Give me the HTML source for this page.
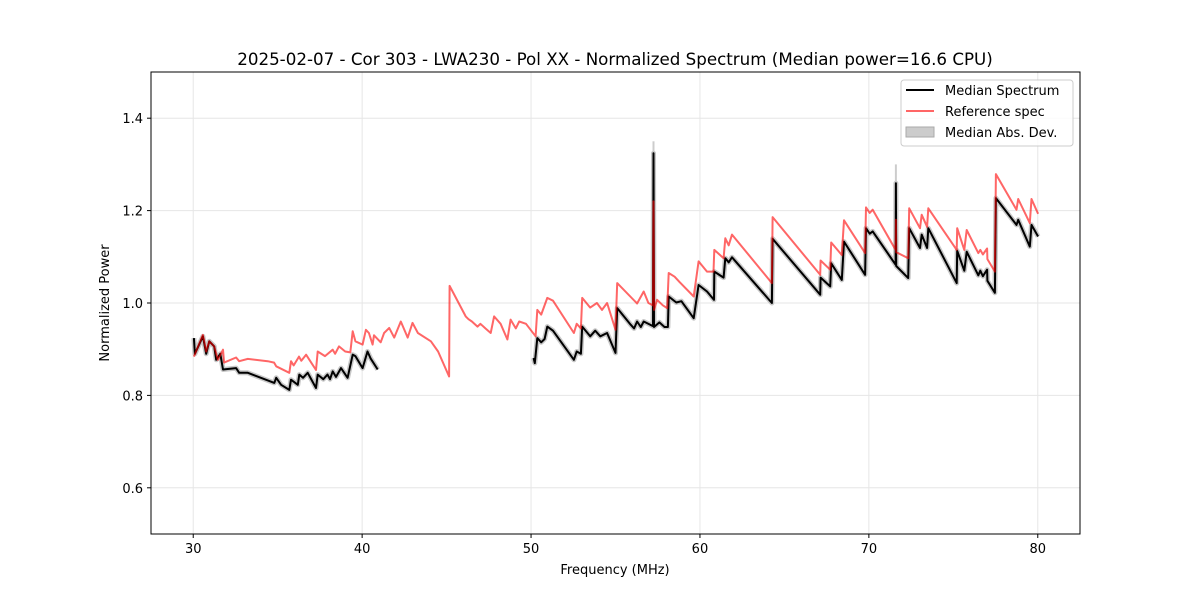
<!DOCTYPE html>
<html><head><meta charset="utf-8"><style>
body{margin:0;background:#fff;font-family:"Liberation Sans","DejaVu Sans",sans-serif}
svg text{font-family:"DejaVu Sans","Liberation Sans",sans-serif}
</style></head><body>
<svg id="chart" width="1200" height="600" xmlns="http://www.w3.org/2000/svg">
<rect width="1200" height="600" fill="#fff"/>
<text x="615" y="65" text-anchor="middle" font-size="16.7">2025-02-07 - Cor 303 - LWA230 - Pol XX - Normalized Spectrum (Median power=16.6 CPU)</text>
<g id="grid"></g><g id="series"></g><g id="axes"></g>
<text x="615" y="574" text-anchor="middle" font-size="13">Frequency (MHz)</text>
<text transform="translate(109,303) rotate(-90)" text-anchor="middle" font-size="13">Normalized Power</text>
<g>
<rect x="901" y="80" width="172" height="66" rx="3" fill="#fff" fill-opacity="0.8" stroke="#ccc"/>
<line x1="906" y1="90" x2="934" y2="90" stroke="#000" stroke-width="2"/>
<text x="945" y="95" font-size="13">Median Spectrum</text>
<line x1="906" y1="111" x2="934" y2="111" stroke="rgba(255,0,0,0.6)" stroke-width="2"/>
<text x="945" y="116" font-size="13">Reference spec</text>
<rect x="906" y="127" width="28" height="10" fill="#ccc" stroke="#aaa"/>
<text x="945" y="137" font-size="13">Median Abs. Dev.</text>
</g>
</svg>
<script>
const xTicks=[30,40,50,60,70,80];
const yTicks=[0.6,0.8,1.0,1.2,1.4];
const yTickLabels=["0.6","0.8","1.0","1.2","1.4"];
const redFreq=[30.04,30.57,30.77,30.95,31.24,31.46,31.76,31.83,32.54,32.72,33.23,34.41,34.79,34.91,35.69,35.79,35.95,36.26,36.40,36.68,37.0,37.27,37.37,37.8,38.26,38.4,38.63,39.0,39.3,39.44,39.6,40.03,40.22,40.4,40.62,40.7,41.1,41.3,41.60,41.9,42.29,42.7,42.98,43.3,44.07,44.5,45.15,45.18,46.13,46.3,46.5,46.83,47.0,47.3,47.61,47.81,48.2,48.60,48.79,49.1,49.3,49.7,50.27,50.37,50.6,50.96,51.3,52.54,52.7,52.95,53.03,53.5,53.9,54.2,54.5,55.00,55.10,56.28,56.67,56.95,57.22,57.25,57.28,57.46,57.8,58.06,58.15,58.5,58.8,59.63,59.92,60.42,60.8,60.85,61.40,61.50,61.7,61.90,64.26,64.30,67.12,67.14,67.71,67.77,68.40,68.53,69.78,69.83,70.05,70.23,71.58,71.6,71.62,72.33,72.39,73.03,73.13,73.45,73.52,75.20,75.23,75.65,75.79,76.48,76.6,76.75,77.0,77.02,77.46,77.52,78.74,78.84,79.53,79.63,80.02];
const redVal=[.884,.931,.895,.917,.906,.877,.899,.871,.882,.874,.879,.874,.871,.863,.849,.874,.865,.884,.875,.888,.87,.855,.895,.885,.899,.89,.906,.895,.893,.939,.917,.910,.942,.935,.910,.930,.915,.935,.946,.925,.960,.925,.957,.935,.917,.895,.841,1.037,.971,.965,.960,.949,.955,.945,.935,.971,.955,.921,.964,.945,.96,.955,.928,.985,.975,1.011,1.005,.935,.955,.945,1.011,.99,1.0,.985,1.0,.942,1.043,.999,1.025,1.0,.995,1.22,.985,1.007,.995,.989,1.065,1.057,1.045,1.014,1.090,1.068,1.068,1.115,1.097,1.140,1.125,1.148,1.043,1.186,1.061,1.092,1.072,1.131,1.104,1.179,1.108,1.207,1.195,1.202,1.115,1.18,1.11,1.097,1.205,1.162,1.191,1.165,1.205,1.115,1.162,1.115,1.158,1.108,1.115,1.105,1.118,1.095,1.068,1.279,1.202,1.225,1.173,1.225,1.193];
const blackFreqA=[30.04,30.1,30.57,30.77,30.95,31.24,31.36,31.6,31.76,32.54,32.72,33.23,34.80,34.91,35.20,35.69,35.79,36.19,36.28,36.5,36.78,37.27,37.37,37.7,37.95,38.1,38.26,38.45,38.75,39.14,39.44,39.6,40.03,40.32,40.5,40.92];
const blackValA=[.924,.89,.928,.89,.917,.906,.877,.89,.856,.859,.849,.849,.827,.838,.823,.812,.834,.823,.845,.838,.849,.816,.845,.835,.845,.835,.852,.840,.859,.838,.888,.885,.859,.895,.880,.856];
const blackFreqB=[50.15,50.22,50.37,50.6,50.8,50.96,51.3,52.54,52.7,52.95,53.03,53.5,53.8,54.1,54.5,55.0,55.10,55.9,56.1,56.28,56.5,56.67,57.22,57.25,57.28,57.6,57.9,58.1,58.15,58.6,58.9,59.63,59.92,60.42,60.83,60.85,61.40,61.50,61.7,61.90,64.26,64.30,67.12,67.14,67.71,67.77,68.40,68.53,69.78,69.83,70.05,70.23,71.58,71.6,71.62,72.33,72.39,73.03,73.13,73.45,73.52,75.20,75.23,75.65,75.79,76.48,76.6,76.75,77.0,77.02,77.46,77.52,78.74,78.84,79.53,79.63,80.02];
const blackValB=[.881,.870,.924,.915,.922,.949,.940,.877,.895,.890,.949,.928,.940,.928,.935,.892,.989,.953,.945,.960,.948,.960,.950,1.324,.948,.958,.948,.948,1.014,1.001,1.004,.967,1.039,1.025,1.007,1.068,1.055,1.097,1.088,1.099,1.0,1.139,1.018,1.055,1.036,1.086,1.050,1.133,1.061,1.162,1.150,1.155,1.083,1.259,1.08,1.054,1.162,1.119,1.148,1.119,1.162,1.043,1.113,1.070,1.111,1.06,1.07,1.058,1.072,1.048,1.022,1.227,1.169,1.180,1.122,1.169,1.144];
const spikeFreq=[57.25,71.6];
const spikeMadTop=[1.35,1.30];
const spikeMadBottom=[1.28,1.22];

const L=151,R=1080,T=72,B=534,X0=27.5,X1=82.5,Y0=0.5,Y1=1.5;
const sx=f=>L+(f-X0)/(X1-X0)*(R-L);
const sy=v=>B-(v-Y0)/(Y1-Y0)*(B-T);
const NS="http://www.w3.org/2000/svg";
function mk(tag,attrs,parent){const e=document.createElementNS(NS,tag);for(const k in attrs)e.setAttribute(k,attrs[k]);parent.appendChild(e);return e;}
const grid=document.getElementById('grid'),ser=document.getElementById('series'),ax=document.getElementById('axes');
xTicks.forEach(t=>{
 const g=mk('line',{x1:sx(t),x2:sx(t),y1:T,y2:B,stroke:'#e6e6e6','stroke-width':1},grid);
 
 
 const tk=mk('line',{x1:sx(t),x2:sx(t),y1:B,y2:B+4,stroke:'#000'},ax);
 
 
 const tx=mk('text',{x:sx(t),y:B+19,'text-anchor':'middle','font-size':13},ax);tx.textContent=t;
 
 
});
yTicks.forEach((t,i)=>{
 const g=mk('line',{x1:L,x2:R,y1:sy(t),y2:sy(t),stroke:'#e6e6e6','stroke-width':1},grid);
 
 
 const tk=mk('line',{x1:L-4,x2:L,y1:sy(t),y2:sy(t),stroke:'#000'},ax);
 
 
 const tx=mk('text',{x:L-8,y:sy(t)+5,'text-anchor':'end','font-size':13},ax);tx.textContent=yTickLabels[i];
 
 
});
const frame=mk('rect',{x:L,y:T,width:R-L,height:B-T,fill:'none',stroke:'#000','stroke-width':1},ax);


function pts(fs,vs){return fs.map((f,i)=>sx(f).toFixed(1)+','+sy(vs[i]).toFixed(1)).join(' ');}
spikeFreq.forEach((f,i)=>{
 const s=mk('line',{x1:sx(f),x2:sx(f),y1:sy(spikeMadTop[i]),y2:sy(spikeMadBottom[i]),stroke:'#ccc','stroke-width':2},ser);
 
 
});
[[blackFreqA,blackValA],[blackFreqB,blackValB]].forEach(([f,v])=>{
 const m=mk('polyline',{points:pts(f,v),fill:'none',stroke:'#c8c8c8','stroke-width':5,'stroke-linejoin':'round'},ser);
 
 
 const b=mk('polyline',{points:pts(f,v),fill:'none',stroke:'#000','stroke-width':2,'stroke-linejoin':'round'},ser);
 
 
});
const r=mk('polyline',{points:pts(redFreq,redVal),fill:'none',stroke:'rgba(255,0,0,0.6)','stroke-width':2,'stroke-linejoin':'round'},ser);


</script>
</body></html>
